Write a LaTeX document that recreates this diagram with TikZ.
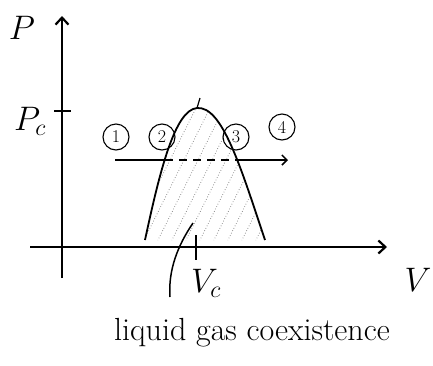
\documentclass[tikz,border=0pt]{standalone}
\usepackage{fix-cm}
\usetikzlibrary{arrows.meta}
\begin{document}
\begin{tikzpicture}[x=1pt,y=-1pt,
  axis/.style={line width=2.2pt,-{Straight Barb[length=7pt,width=13pt]}},
  curve/.style={line width=1.8pt},
  iso/.style={line width=1.5pt},
  circ/.style={circle,draw,line width=1.1pt,minimum size=26pt,inner sep=0pt,font=\fontsize{18}{18}\selectfont},
  lbl/.style={font=\fontsize{34}{38}\selectfont},
  hatch/.style={line width=0.7pt,dotted,gray}]
\useasboundingbox (0,0) rectangle (433,365);
% axes
\coordinate (yb) at (62,278);
\coordinate (yt) at (62,16);
\coordinate (xl) at (30,247);
\coordinate (xr) at (387,247);
\draw[axis] (yb) -- (yt);
\draw[axis] (xl) -- (xr);
\node[lbl] (P) at (22,28) {$P$};
\node[lbl] (V) at (418,280) {$V$};
% Pc tick
\coordinate (pcl) at (54,111);
\coordinate (pcr) at (71,111);
\draw[line width=1.8pt] (pcl) -- (pcr);
\node[lbl] (Pc) at (30,121) {$P_c$};
% dome
\coordinate (dl) at (145,240);
\coordinate (dp) at (197,108);
\coordinate (dr) at (265,240);
\begin{scope}
\clip (dl) .. controls (160,170) and (175,110) .. (dp) .. controls (222,106) and (240,165) .. (dr) -- cycle;
\foreach \i in {0,...,12} {
  \draw[hatch] (120+14*\i,260) -- (200+14*\i,100);
}
\end{scope}
\draw[curve] (dl) .. controls (160,170) and (175,110) .. (dp) .. controls (222,106) and (240,165) .. (dr);
\draw[line width=1.2pt] (dp) -- (200,98);
% isotherm
\coordinate (i1) at (115,160);
\coordinate (i2) at (165,160);
\coordinate (i3) at (240,160);
\coordinate (i4) at (288,160);
\draw[iso] (i1) -- (i2);
\draw[iso,dashed,dash pattern=on 8pt off 6pt] (i2) -- (i3);
\draw[iso,-{Straight Barb[length=5pt,width=10pt]}] (i3) -- (i4);
\node[circ] (c1) at (116,137) {1};
\node[circ] (c2) at (162,137) {2};
\node[circ] (c3) at (236,137) {3};
\node[circ] (c4) at (282,127) {4};
% Vc tick
\coordinate (vct) at (196,235);
\coordinate (vcb) at (196,260);
\draw[line width=1.8pt] (vct) -- (vcb);
\node[lbl] (Vc) at (206,283) {$V_c$};
% pointer
\coordinate (pt) at (193,223);
\coordinate (pb) at (170,297);
\draw[line width=1.5pt] (pt) .. controls (178,245) and (168,270) .. (pb);
\node[font=\fontsize{32}{36}\selectfont] (txt) at (252,333) {liquid gas coexistence};
\end{tikzpicture}
\end{document}
